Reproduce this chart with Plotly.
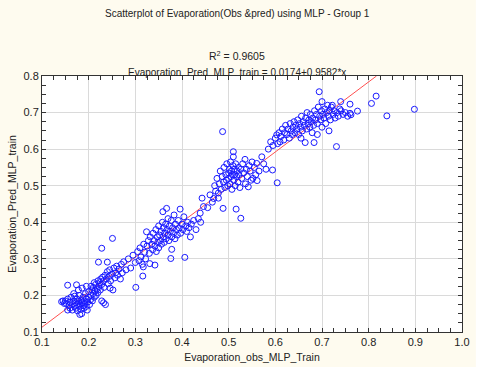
import plotly.graph_objects as go

obs_low = [0.150, 0.152, 0.155, 0.158, 0.160, 0.160, 0.162, 0.165, 0.165, 0.168, 0.170, 0.170, 0.172, 0.173,
           0.175, 0.175, 0.176, 0.178, 0.180, 0.180, 0.182, 0.183, 0.184, 0.185, 0.186, 0.188, 0.188, 0.190,
           0.190, 0.192, 0.193, 0.195, 0.195, 0.197, 0.198, 0.200, 0.200, 0.202, 0.204, 0.205, 0.207, 0.208,
           0.210, 0.210, 0.212, 0.214, 0.215, 0.216, 0.218, 0.220, 0.220, 0.222, 0.224, 0.225, 0.226, 0.228,
           0.228, 0.230, 0.232, 0.233, 0.235, 0.236, 0.238, 0.240, 0.242, 0.244, 0.245, 0.247, 0.250, 0.252,
           0.254, 0.256, 0.258, 0.260, 0.262, 0.265, 0.268, 0.270, 0.272, 0.275, 0.155, 0.174, 0.181, 0.221,
           0.240, 0.228, 0.251, 0.145, 0.148, 0.142, 0.155, 0.168, 0.178, 0.186, 0.195, 0.205, 0.212, 0.232,
           0.246]
pred_low = [0.185, 0.178, 0.190, 0.172, 0.182, 0.165, 0.195, 0.175, 0.160, 0.185, 0.170, 0.198, 0.180, 0.165,
            0.175, 0.190, 0.158, 0.183, 0.170, 0.200, 0.176, 0.162, 0.188, 0.150, 0.180, 0.172, 0.195, 0.165,
            0.185, 0.178, 0.205, 0.170, 0.190, 0.160, 0.182, 0.195, 0.210, 0.175, 0.188, 0.200, 0.215, 0.185,
            0.205, 0.222, 0.195, 0.212, 0.230, 0.200, 0.218, 0.240, 0.208, 0.225, 0.235, 0.215, 0.245, 0.185,
            0.230, 0.250, 0.240, 0.222, 0.255, 0.175, 0.245, 0.265, 0.232, 0.252, 0.270, 0.240, 0.258, 0.215,
            0.275, 0.248, 0.262, 0.280, 0.255, 0.272, 0.245, 0.285, 0.262, 0.292, 0.228, 0.229, 0.148, 0.291,
            0.291, 0.329, 0.356, 0.185, 0.178, 0.183, 0.160, 0.205, 0.215, 0.220, 0.225, 0.225, 0.235, 0.180,
            0.220]

obs_mid = [0.280, 0.285, 0.290, 0.295, 0.300, 0.301, 0.305, 0.308, 0.310, 0.312, 0.315, 0.316, 0.317, 0.318,
           0.320, 0.322, 0.324, 0.325, 0.328, 0.330, 0.331, 0.332, 0.335, 0.337, 0.338, 0.340, 0.342, 0.342,
           0.344, 0.345, 0.347, 0.348, 0.350, 0.350, 0.352, 0.354, 0.355, 0.356, 0.358, 0.359, 0.360, 0.360,
           0.362, 0.363, 0.365, 0.366, 0.367, 0.368, 0.370, 0.370, 0.372, 0.373, 0.375, 0.376, 0.377, 0.378,
           0.378, 0.380, 0.382, 0.383, 0.385, 0.386, 0.388, 0.390, 0.392, 0.394, 0.396, 0.397, 0.400, 0.402,
           0.404, 0.406, 0.408, 0.410, 0.412, 0.415, 0.418, 0.420, 0.425, 0.430, 0.435, 0.439, 0.443, 0.446,
           0.440]
pred_mid = [0.270, 0.300, 0.275, 0.310, 0.290, 0.222, 0.320, 0.295, 0.330, 0.305, 0.285, 0.253, 0.278, 0.340,
            0.318, 0.300, 0.374, 0.335, 0.350, 0.315, 0.287, 0.360, 0.340, 0.325, 0.370, 0.350, 0.283, 0.335,
            0.380, 0.320, 0.360, 0.345, 0.390, 0.330, 0.365, 0.350, 0.375, 0.340, 0.400, 0.429, 0.360, 0.385,
            0.345, 0.370, 0.395, 0.355, 0.438, 0.380, 0.365, 0.410, 0.350, 0.390, 0.375, 0.301, 0.405, 0.326,
            0.360, 0.385, 0.370, 0.420, 0.355, 0.395, 0.380, 0.365, 0.405, 0.385, 0.436, 0.370, 0.395, 0.380,
            0.415, 0.304, 0.390, 0.375, 0.400, 0.385, 0.360, 0.395, 0.405, 0.380, 0.410, 0.425, 0.466, 0.443,
            0.400]

obs_upmid = [0.455, 0.460, 0.465, 0.470, 0.472, 0.475, 0.478, 0.480, 0.482, 0.484, 0.486, 0.487, 0.488, 0.489,
             0.490, 0.492, 0.494, 0.495, 0.496, 0.498, 0.500, 0.500, 0.502, 0.503, 0.504, 0.505, 0.506, 0.507,
             0.508, 0.509, 0.510, 0.510, 0.511, 0.512, 0.513, 0.514, 0.515, 0.516, 0.517, 0.518, 0.520, 0.521,
             0.522, 0.524, 0.526, 0.526, 0.528, 0.530, 0.532, 0.535, 0.536, 0.538, 0.540, 0.542, 0.544, 0.546,
             0.548, 0.550, 0.552, 0.555, 0.558, 0.560, 0.561, 0.565, 0.571, 0.575, 0.580, 0.594, 0.604, 0.478,
             0.468]
pred_upmid = [0.440, 0.475, 0.455, 0.500, 0.485, 0.520, 0.466, 0.505, 0.540, 0.490, 0.525, 0.648, 0.438, 0.510,
              0.550, 0.495, 0.530, 0.515, 0.560, 0.500, 0.535, 0.520, 0.545, 0.505, 0.565, 0.525, 0.540, 0.490,
              0.530, 0.555, 0.593, 0.579, 0.515, 0.545, 0.530, 0.500, 0.560, 0.436, 0.525, 0.540, 0.510, 0.550,
              0.530, 0.495, 0.411, 0.545, 0.520, 0.560, 0.535, 0.572, 0.505, 0.545, 0.525, 0.497, 0.555, 0.540,
              0.515, 0.565, 0.520, 0.550, 0.530, 0.561, 0.514, 0.540, 0.579, 0.560, 0.545, 0.543, 0.508, 0.480,
              0.465]

obs_high = [0.585, 0.590, 0.595, 0.600, 0.603, 0.605, 0.608, 0.610, 0.612, 0.615, 0.618, 0.620, 0.622, 0.625,
            0.627, 0.630, 0.632, 0.634, 0.636, 0.638, 0.640, 0.642, 0.644, 0.646, 0.648, 0.650, 0.652, 0.654,
            0.656, 0.658, 0.660, 0.662, 0.664, 0.665, 0.667, 0.668, 0.670, 0.672, 0.674, 0.675, 0.677, 0.679,
            0.680, 0.682, 0.683, 0.684, 0.686, 0.688, 0.690, 0.692, 0.694, 0.695, 0.697, 0.699, 0.700, 0.702,
            0.704, 0.706, 0.708, 0.710, 0.712, 0.714, 0.716, 0.718, 0.720, 0.722, 0.724, 0.726, 0.728, 0.731,
            0.732, 0.735, 0.738, 0.740, 0.741, 0.745, 0.750, 0.755, 0.760, 0.760, 0.762, 0.776, 0.806, 0.816,
            0.839, 0.898, 0.700, 0.715, 0.690, 0.655]
pred_high = [0.600, 0.620, 0.610, 0.630, 0.639, 0.615, 0.645, 0.620, 0.635, 0.655, 0.625, 0.645, 0.665, 0.640,
             0.655, 0.630, 0.670, 0.650, 0.640, 0.660, 0.675, 0.645, 0.665, 0.655, 0.680, 0.640, 0.670, 0.660,
             0.690, 0.650, 0.675, 0.665, 0.618, 0.685, 0.655, 0.700, 0.670, 0.680, 0.660, 0.695, 0.675, 0.645,
             0.685, 0.665, 0.618, 0.705, 0.680, 0.695, 0.670, 0.715, 0.757, 0.690, 0.680, 0.705, 0.730, 0.695,
             0.685, 0.710, 0.670, 0.700, 0.720, 0.690, 0.705, 0.680, 0.715, 0.720, 0.695, 0.705, 0.685, 0.607,
             0.700, 0.690, 0.710, 0.730, 0.705, 0.695, 0.700, 0.690, 0.723, 0.698, 0.694, 0.704, 0.725, 0.745,
             0.691, 0.709, 0.660, 0.650, 0.640, 0.630]

obs = obs_low + obs_mid + obs_upmid + obs_high
pred = pred_low + pred_mid + pred_upmid + pred_high

# regression line from the fit shown in the title
intercept = 0.0174
slope = 0.9582
x_fit = [0.1, (0.8 - intercept) / slope]
y_fit = [intercept + slope * v for v in x_fit]

font = "Liberation Sans, Arial, sans-serif"

fig = go.Figure()
fig.add_trace(go.Scatter(x=x_fit, y=y_fit, mode='lines',
                         line=dict(color='#ff5050', width=1), hoverinfo='skip'))
fig.add_trace(go.Scatter(x=obs, y=pred, mode='markers',
                         marker=dict(symbol='circle-open', size=6, color='#1a1aff',
                                     line=dict(width=1, color='#1a1aff'))))

axis_common = dict(showgrid=True, gridcolor='#dadada', gridwidth=1, automargin=False,
                   showline=True, linecolor='#333', linewidth=1, mirror='allticks',
                   ticks='inside', ticklen=4, tickcolor='#333',
                   minor=dict(ticks='inside', ticklen=4, dtick=0.025, tickcolor='#333', showgrid=False),
                   zeroline=False, tickfont=dict(size=11, color='#222', family=font))

fig.update_xaxes(range=[0.1, 1.0], dtick=0.1, tickformat='.1f',
                 title=dict(text='Evaporation_obs_MLP_Train', font=dict(size=10.5, color='#222', family=font),
                            standoff=6),
                 **axis_common)
fig.update_yaxes(range=[0.1, 0.8], dtick=0.1, tickformat='.1f',
                 title=dict(text='Evaporation_Pred_MLP_train', font=dict(size=10.5, color='#222', family=font),
                            standoff=4),
                 **axis_common)

fig.add_annotation(text='Scatterplot of Evaporation(Obs &pred) using MLP - Group 1',
                   xref='paper', yref='paper', x=0.465, y=1.272, showarrow=False,
                   font=dict(size=10, color='#222', family=font))
fig.add_annotation(text='R<sup>2</sup> = 0.9605',
                   xref='paper', yref='paper', x=0.465, y=1.048, yanchor='bottom', showarrow=False,
                   font=dict(size=10.5, color='#222', family=font))
fig.add_annotation(text='Evaporation  Pred  MLP  train = 0.0174+0.9582*x',
                   xref='paper', yref='paper', x=0.465, y=1.044, showarrow=False,
                   font=dict(size=10, color='#222', family=font))

# white strips at the right and bottom edges of the picture
fig.add_shape(type='rect', xref='paper', yref='paper', x0=1.033, x1=1.2, y0=-0.3, y1=1.4,
              fillcolor='white', line=dict(width=0), layer='above')
fig.add_shape(type='rect', xref='paper', yref='paper', x0=-0.2, x1=1.2, y0=-0.3, y1=-0.137,
              fillcolor='white', line=dict(width=0), layer='above')

fig.update_layout(width=480, height=373, showlegend=False,
                  margin=dict(l=42, r=18, t=76, b=41),
                  paper_bgcolor='#fefbef', plot_bgcolor='white',
                  font=dict(family=font, size=11, color='#222'))

fig.write_html("out.html", config={'displayModeBar': False},
               post_script="document.body.style.margin='0';")
